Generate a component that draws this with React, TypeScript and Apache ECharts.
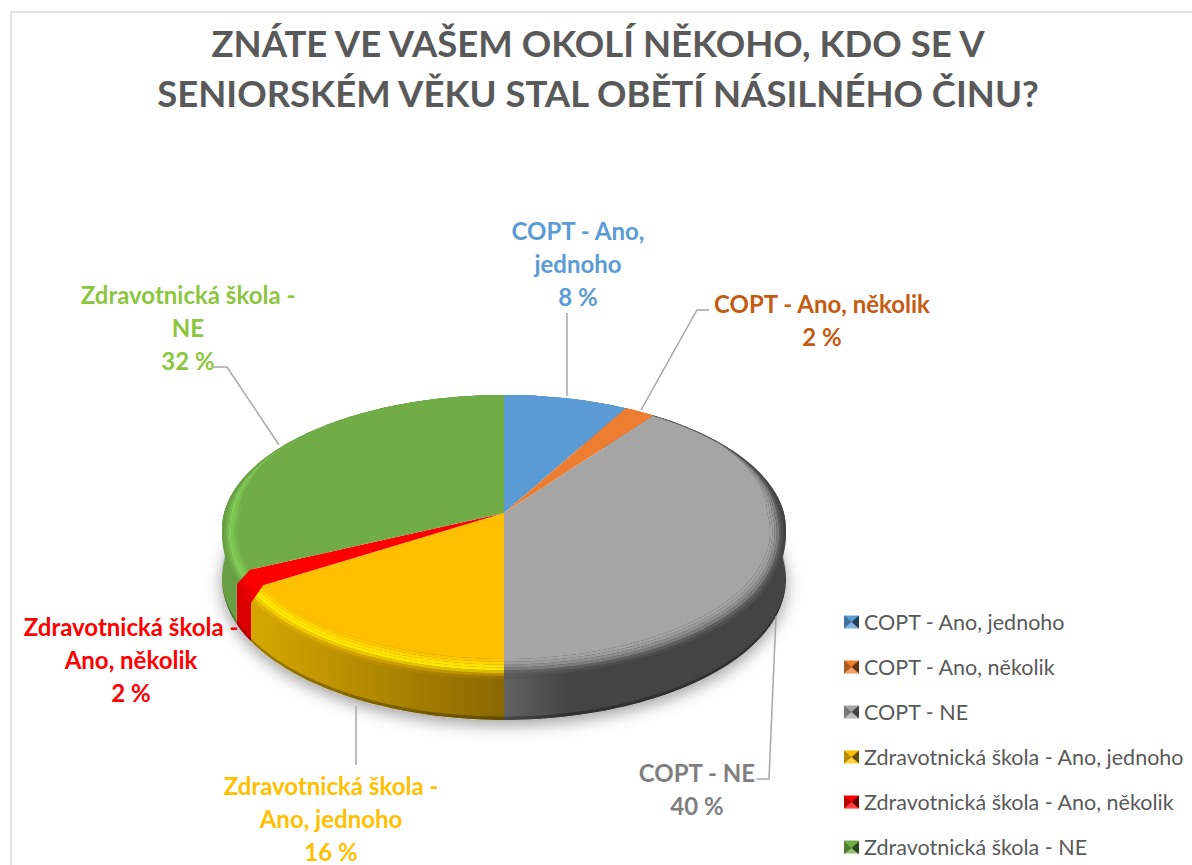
import React, { useEffect, useRef } from "react";
import * as echarts from "echarts";

const categories = [
  "COPT - Ano, jednoho",
  "COPT - Ano, několik",
  "COPT - NE",
  "Zdravotnická škola - Ano, jednoho",
  "Zdravotnická škola - Ano, několik",
  "Zdravotnická škola - NE",
];
const values = [8, 2, 40, 16, 2, 32];
const titleText = "ZNÁTE VE VAŠEM OKOLÍ NĚKOHO, KDO SE V\nSENIORSKÉM VĚKU STAL OBĚTÍ NÁSILNÉHO ČINU?";
const labelTexts = [
  "COPT - Ano,\njednoho\n8 %",
  "COPT - Ano, několik\n2 %",
  "COPT - NE\n40 %",
  "Zdravotnická škola -\nAno, jednoho\n16 %",
  "Zdravotnická škola -\nAno, několik\n2 %",
  "Zdravotnická škola -\nNE\n32 %",
];

const faceColors = ["#5B9BD5", "#ED7D31", "#A5A5A5", "#FFC000", "#FF0000", "#70AD47"];
const labelColors = ["#5B9BD5", "#C55A11", "#7F7F7F", "#FFC000", "#FF0000", "#8CC63F"];
const bevelRamps = [
  ["#5B9BD5", "#5B9BD5", "#5B9BD5", "#5B9BD5", "#5B9BD5", "#5B9BD5", "#5B9BD5"],
  ["#ED7D31", "#ED7D31", "#ED7D31", "#ED7D31", "#ED7D31", "#ED7D31", "#ED7D31"],
  ["#A3A3A3", "#9C9C9C", "#8E8E8E", "#7C7C7C", "rgba(100,100,100,0.8)", "rgba(85,85,85,0.55)", "rgba(68,68,68,0.25)"],
  ["#FFC600", "#FFD400", "#FFE200", "#FFE800", "rgba(255,222,0,0.7)", "rgba(245,195,0,0.4)", "rgba(225,175,0,0.15)"],
  ["#FF0000", "#FF0000", "#FF0000", "rgba(255,0,0,0.8)", "rgba(255,0,0,0.6)", "rgba(255,0,0,0.35)", "rgba(255,0,0,0.15)"],
  ["#74B34A", "#7ABE50", "#80C856", "#84CE5A", "rgba(125,195,85,0.75)", "rgba(115,180,75,0.45)", "rgba(105,165,70,0.2)"],
];
const wallStops = [
  ["#4A7DAA", "#4A7DAA"],
  ["#BE6427", "#BE6427"],
  ["#626262", "#444444"],
  ["#8A6700", "#D6A800"],
  ["#DD0000", "#DD0000"],
  ["#5F9040", "#689E44"],
];

// Layout of the perspective disc
const CX = 504, CY = 513, R = 279.9, A = 132.5, K = 0.123, DEPTH = 49;
const BAND_DROP = 13, BAND_SIDE = 0.06;

const project = (deg: number, r: number, drop = 0) => {
  const a = (deg * Math.PI) / 180;
  const u = r * Math.sin(a), v = -r * Math.cos(a), s = 1 / (1 - K * v);
  return [CX + R * u * s, CY + A * v * s + drop * s];
};
const sweep = (from: number, to: number, at: (d: number) => number[]) => {
  const n = Math.max(2, Math.ceil(Math.abs(to - from) / 1.5));
  const pts: number[][] = [];
  for (let i = 0; i <= n; i++) pts.push(at(from + ((to - from) * i) / n));
  return pts;
};
const arc = (from: number, to: number, drop = 0) => sweep(from, to, (d) => project(d, 1, drop));
const bandAt = (d: number, t: number) => {
  const v = -Math.cos((d * Math.PI) / 180);
  const inset = v >= 0 ? BAND_SIDE * (1 - 0.5 * v) : BAND_SIDE * Math.max(0.1, 1 + 1.6 * v);
  const drop = BAND_DROP * Math.min(1, Math.max(0, v) * 2);
  return project(d, 1 - inset * (1 - t), drop * t);
};
const vGrad = (c0: string, c1: string) => ({
  type: "linear", global: true, x: 0, y: 420, x2: 0, y2: 470,
  colorStops: [{ offset: 0, color: c0 }, { offset: 1, color: c1 }],
});
const hGrad = (c0: string, c1: string, x0: number, x1: number) => ({
  type: "linear", global: true, x: x0, y: 0, x2: x1, y2: 0,
  colorStops: [{ offset: 0, color: c0 }, { offset: 1, color: c1 }],
});

const labelPos = [
  [578, 214], [822, 287], [697, 756], [331, 769], [131, 610], [188, 278],
];
const leaders = [
  [[567, 313], [567, 396]],
  [[709, 310], [697, 310], [641, 410]],
  [[757, 779], [769, 779], [776, 616]],
  [[356, 706], [356, 765]],
  [],
  [[212, 367], [227, 367], [279, 445]],
];

const LEG_X = 844, LEG_W = 15, LEG_H = 13;
const legendRows = [622, 667, 712, 757, 802, 848];

function renderSlice(index: number) {
  return (_p: any, api: any) => {
    const total = values.reduce((s, v) => s + v, 0);
    const before = values.slice(0, index).reduce((s, v) => s + v, 0);
    const a0 = (before / total) * 360;
    const a1 = ((before + api.value(0)) / total) * 360;
    const children: any[] = [];
    if (index === 0) {
      children.push({
        type: "polygon", z2: 0,
        shape: { points: arc(0, 360, DEPTH) },
        style: { fill: "#ffffff", shadowBlur: 16, shadowOffsetY: 5, shadowColor: "rgba(0,0,0,0.38)" },
      });
    }
    // side wall
    const top = arc(a0, a1);
    const bottom = arc(a1, a0, DEPTH);
    const xs = [...top, ...bottom].map((p) => p[0]);
    const wallFill = hGrad(wallStops[index][0], wallStops[index][1], index === 2 ? 504 : Math.max(...xs), index === 2 ? 570 : Math.min(...xs));
    children.push({
      type: "polygon", z2: 1,
      shape: { points: [...top, ...bottom] },
      style: { fill: wallFill },
    });
    children.push({
      type: "polygon", z2: 2,
      shape: { points: [...arc(a0, a1, DEPTH - 3), ...arc(a1, a0, DEPTH)] },
      style: { fill: "rgba(0,0,0,0.28)" },
    });
    // top face
    children.push({
      type: "polygon", z2: 3,
      shape: { points: [[CX, CY], ...arc(a0, a1)] },
      style: { fill: faceColors[index] },
    });
    // soft bevel band: a base in the wall's colour, then narrow stripes that fade into it
    const ramp = bevelRamps[index];
    children.push({
      type: "polygon", z2: 4,
      shape: { points: [...sweep(a0, a1, (d) => bandAt(d, 0)), ...sweep(a1, a0, (d) => bandAt(d, 1))] },
      style: { fill: a0 >= 36 ? wallFill : faceColors[index] },
    });
    ramp.forEach((c, i) => {
      const t0 = i / ramp.length, t1 = (i + 1) / ramp.length;
      children.push({
        type: "polygon", z2: 5,
        shape: { points: [...sweep(a0, a1, (d) => bandAt(d, t0)), ...sweep(a1, a0, (d) => bandAt(d, t1))] },
        style: { fill: c },
      });
    });
    if (leaders[index].length) {
      children.push({
        type: "polyline", z2: 6,
        shape: { points: leaders[index] },
        style: { stroke: "#A6A6A6", lineWidth: 1.5, fill: "none" },
      });
    }
    children.push({
      type: "text", z2: 7,
      x: labelPos[index][0], y: labelPos[index][1],
      style: {
        text: labelTexts[index], align: "center", verticalAlign: "top",
        font: "bold 24px Lato", fill: labelColors[index], lineHeight: 33,
      },
    });
    return { type: "group", children };
  };
}

const legendIcons = legendRows.flatMap((y) => {
  const x0 = LEG_X, x1 = LEG_X + LEG_W, y0 = y - LEG_H / 2, y1 = y + LEG_H / 2;
  const mx = (x0 + x1) / 2;
  return [
    { type: "polygon", z: 20, shape: { points: [[x0, y0], [mx, y], [x0, y1]] }, style: { fill: "rgba(0,0,0,0.28)" } },
    { type: "polygon", z: 20, shape: { points: [[x1, y0], [mx, y], [x1, y1]] }, style: { fill: "rgba(0,0,0,0.6)" } },
    { type: "polygon", z: 20, shape: { points: [[x0, y1], [mx, y], [x1, y1]] }, style: { fill: "rgba(255,255,255,0.25)" } },
  ];
});

export default function App() {
  const ref = useRef<HTMLDivElement>(null);
  useEffect(() => {
    const chart = echarts.init(ref.current!, undefined, { renderer: "svg" });
    chart.setOption({
      animation: false,
      backgroundColor: "#ffffff",
      title: {
        text: titleText, left: 593, top: 13, textAlign: "center",
        textStyle: { fontFamily: "Lato", fontWeight: "bold", fontSize: 36.5, lineHeight: 50, color: "#595959" },
      },
      legend: {
        orient: "vertical", left: LEG_X, top: 610, icon: "rect",
        itemWidth: LEG_W, itemHeight: LEG_H, itemGap: 21, padding: 0,
        selectedMode: false, data: categories,
        textStyle: { fontFamily: "Lato", fontSize: 21.5, color: "#595959", lineHeight: 24 },
      },
      graphic: [
        { type: "rect", z: 0, shape: { x: 11, y: 12, width: 1400, height: 1100 }, style: { fill: "none", stroke: "#D9D9D9", lineWidth: 1.5 } },
        ...legendIcons,
      ],
      series: categories.map((name, i) => ({
        type: "custom", name, coordinateSystem: "none",
        itemStyle: { color: faceColors[i] },
        data: [[values[i]]],
        renderItem: renderSlice(i),
        silent: true,
      })),
    });
    return () => chart.dispose();
  }, []);
  return <div ref={ref} style={{ position: "absolute", left: 0, top: 0, width: 1192, height: 865 }} />;
}
